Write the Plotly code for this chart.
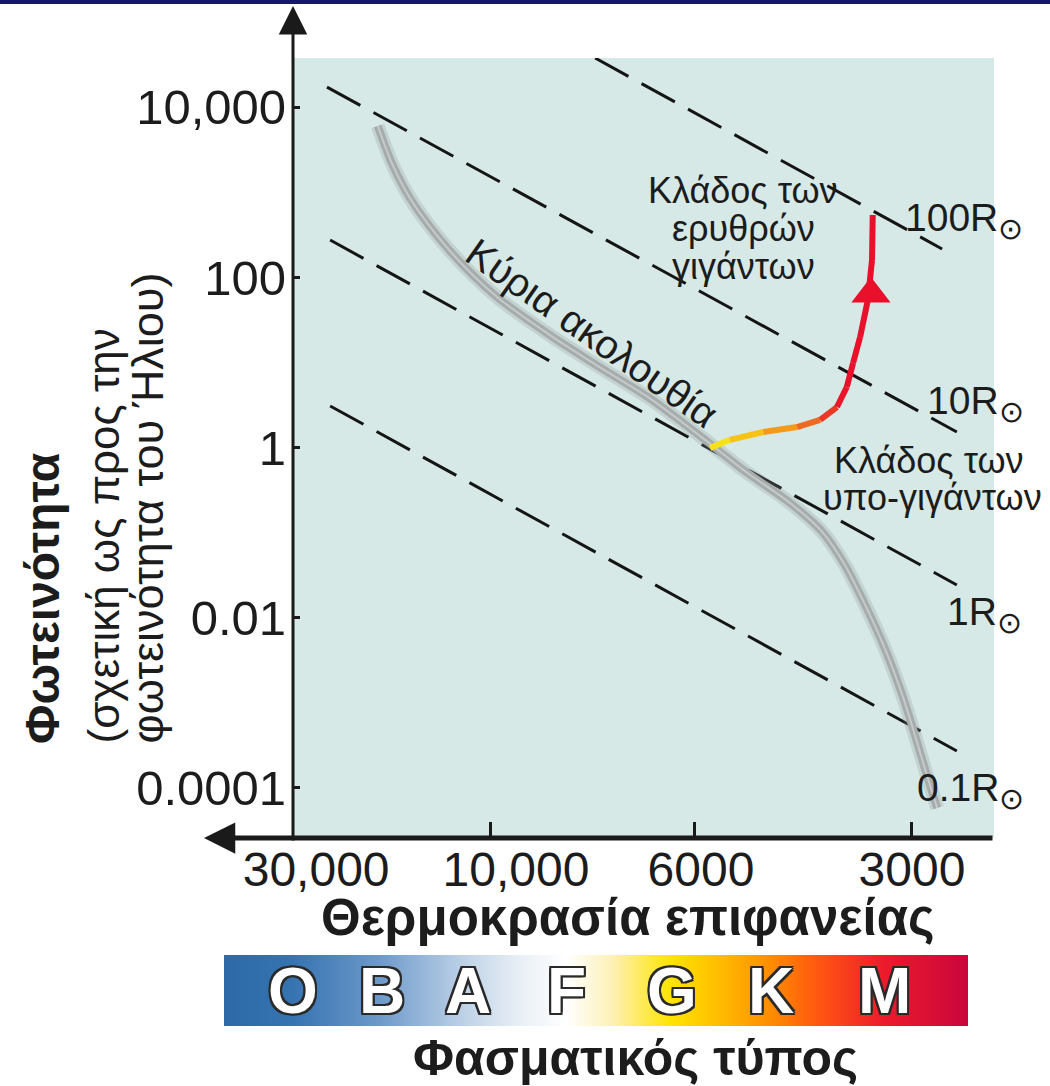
import plotly.graph_objects as go

W, H = 1050, 1086

# ---------------- data ----------------
# x axis: schematic temperature scale (0-100 across the axis, hotter on the left)
temp_tick_labels = ["30,000", "10,000", "6000", "3000"]
temp_label_pos = [3.3, 31.8, 58.2, 88.3]
temp_mark_pos = [28.2, 57.3, 88.2]

# y axis: luminance relative to the Sun (log)
lum_tick_vals = [1e-4, 1e-2, 1, 100, 1e4]
lum_tick_labels = ["0.0001", "0.01", "1", "100", "10,000"]

# constant-radius lines (start / end)
radius_names = ["100R", "10R", "1R", "0.1R"]
radius_x = [[43.1, 92.6], [4.85, 94.7], [5.3, 94.7], [5.3, 94.7]]
radius_L = [[38000, 216], [17300, 1.52], [275, 0.0242], [3.08, 2.7e-4]]

# main sequence
ms_x = [12.1, 14.1, 16.7, 20.3, 24.5, 29.5, 36.7, 43.8, 51.0, 58.1, 64.5,
        70.9, 75.5, 78.7, 81.6, 84.5, 86.9, 88.7, 90.4, 91.9]
ms_L = [6030, 2210, 852, 329, 133, 55.4, 20.8, 8.75, 3.73, 1.36, 0.526,
        0.223, 0.102, 0.0419, 0.0142, 0.00420, 0.00124, 0.000420,
        0.000142, 0.0000578]

# sub-giant / red-giant track
rg_x = [59.5, 62.3, 67.1, 71.9, 75.2, 77.6, 79.0, 79.9, 80.9, 82.0, 82.6, 82.7]
rg_L = [0.987, 1.23, 1.52, 1.74, 2.11, 2.99, 5.14, 9.86, 19.9, 54.2, 160, 542]
rg_colors = ["#f7e21a", "#f6c214", "#f39a18", "#ef6a20", "#ea3a26", "#e8182a",
             "#e8102a", "#e8102a", "#e8102a", "#e8102a", "#e8102a"]
rg_arrow_x = [82.45]
rg_arrow_L = [63.8]

# spectral classes bar
spectral_classes = ["O", "B", "A", "F", "G", "K", "M"]
spectral_pos = [0.093, 0.212, 0.328, 0.461, 0.602, 0.735, 0.888]
grad_stops = [0.0, 0.09, 0.21, 0.30, 0.34, 0.40, 0.46, 0.52, 0.60, 0.66, 0.735, 0.80, 0.888, 1.0]
grad_colors = ["#2d69a7", "#3573b1", "#6e9aca", "#aec7e2", "#c9d9ea", "#eaf0f6", "#ffffff",
               "#fdf1b8", "#ffe400", "#ffc000", "#ff8c00", "#ff5512", "#ec1a2c", "#c8053c"]

# ---------------- helpers (layout only) ----------------
def px(x):
    return x / W

def py(y):
    return 1 - y / H

FONT = "Liberation Sans, Arial, sans-serif"
INK = "#1c1c1c"

fig = go.Figure()

# constant-radius dashed lines
for xs, ls in zip(radius_x, radius_L):
    fig.add_trace(go.Scatter(x=xs, y=ls, mode="lines",
                             line=dict(color="#151515", width=3, dash="38px,15px"),
                             hoverinfo="skip", showlegend=False))

# main sequence (soft grey tube)
fig.add_trace(go.Scatter(x=ms_x, y=ms_L, mode="lines",
                         line=dict(color="rgba(140,146,146,0.25)", width=14, shape="spline", smoothing=0.9),
                         hoverinfo="skip", showlegend=False))
fig.add_trace(go.Scatter(x=ms_x, y=ms_L, mode="lines",
                         line=dict(color="#a6acac", width=8, shape="spline", smoothing=0.9),
                         hoverinfo="skip", showlegend=False))
fig.add_trace(go.Scatter(x=ms_x, y=ms_L, mode="lines",
                         line=dict(color="rgba(222,226,226,0.55)", width=2, shape="spline", smoothing=0.9),
                         hoverinfo="skip", showlegend=False))

# giant track in colour segments
for i in range(len(rg_x) - 1):
    fig.add_trace(go.Scatter(x=rg_x[i:i + 2], y=rg_L[i:i + 2], mode="lines",
                             line=dict(color=rg_colors[i], width=6),
                             hoverinfo="skip", showlegend=False))
fig.add_trace(go.Scatter(x=rg_arrow_x, y=rg_arrow_L, mode="markers",
                         marker=dict(symbol="triangle-up", size=34, color="#e8102a", line=dict(width=0)),
                         hoverinfo="skip", showlegend=False))

# spectral gradient bar
fig.add_trace(go.Heatmap(x=[0, 1], y=[0, 1], z=[[0, 1], [0, 1]], zsmooth="best",
                         colorscale=[[s, c] for s, c in zip(grad_stops, grad_colors)],
                         zmin=0, zmax=1, showscale=False, hoverinfo="skip",
                         xaxis="x2", yaxis="y2"))

annotations = []

# axis arrows
annotations.append(dict(x=px(293), y=py(6), xref="paper", yref="paper",
                        ax=0, ay=836, axref="pixel", ayref="pixel", showarrow=True,
                        arrowhead=2, arrowsize=1.9, arrowwidth=3, arrowcolor="#1a1a1a", text=""))
annotations.append(dict(x=px(204), y=py(838), xref="paper", yref="paper",
                        ax=790, ay=0, axref="pixel", ayref="pixel", showarrow=True,
                        arrowhead=2, arrowsize=1.25, arrowwidth=5, arrowcolor="#1a1a1a", text=""))

def label(text, x, y, size, bold=False, angle=0, xanchor="center", yanchor="middle", color=INK):
    annotations.append(dict(text=text, x=px(x), y=py(y), xref="paper", yref="paper",
                            showarrow=False, textangle=angle, xanchor=xanchor, yanchor=yanchor,
                            font=dict(family=FONT, size=size, color=color,
                                      weight="bold" if bold else "normal")))

# axis titles
label("Φωτεινότητα", 42, 746, 48, bold=True, angle=-90, yanchor="bottom")
label("(σχετική ως προς την", 103, 746, 44, angle=-90, yanchor="bottom")
label("φωτεινότητα του Ήλιου)", 147, 746, 45, angle=-90, yanchor="bottom")
label("Θερμοκρασία επιφανείας", 628, 917, 51, bold=True)
label("Φασματικός τύπος", 635, 1058, 50, bold=True)

# in-plot labels
label("Κύρια ακολουθία", 592, 333, 40, angle=35.1)
label("Κλάδος των", 743, 190, 36)
label("ερυθρών", 743, 228, 36)
label("γιγάντων", 743, 266, 36)
label("Κλάδος των", 929, 460, 36)
label("υπο-γιγάντων", 932, 497, 36)

SUN = "<sub><span style='font-size:30px'>⊙</span></sub>"
r_label_pos = [(903, 220), (925, 404), (945, 614), (915, 790)]
for name, (lx, ly) in zip(radius_names, r_label_pos):
    label(name + SUN, lx, ly, 39, xanchor="left")

# spectral letters
OUT = "#2a2a2a"
for cls, pos in zip(spectral_classes, spectral_pos):
    annotations.append(dict(text=cls, x=pos, y=0.5, xref="x2", yref="y2", showarrow=False,
                            font=dict(family=FONT, size=64, color="white", weight="bold",
                                      shadow=f"2px 2px 0 {OUT}, -2px -2px 0 {OUT}, 2px -2px 0 {OUT}, "
                                             f"-2px 2px 0 {OUT}, 0 2px 0 {OUT}, 0 -2px 0 {OUT}, "
                                             f"2px 0 0 {OUT}, -2px 0 0 {OUT}")))

shapes = [dict(type="rect", xref="paper", yref="paper", x0=0, x1=1, y0=py(4), y1=1,
               fillcolor="#17176a", line=dict(width=0), layer="above")]

fig.update_layout(
    width=W, height=H,
    margin=dict(l=0, r=0, t=0, b=0, pad=0, autoexpand=False),
    paper_bgcolor="white",
    plot_bgcolor="#d6e9e7",
    showlegend=False,
    xaxis=dict(domain=[px(293), px(994)], range=[0, 100], showgrid=False, zeroline=False,
               showline=False, tickvals=temp_label_pos, ticktext=temp_tick_labels,
               ticks="", automargin=False,
               tickfont=dict(family=FONT, size=48, color=INK), fixedrange=True,
               minor=dict(tickmode="array", tickvals=temp_mark_pos, ticks="inside",
                          ticklen=15, tickwidth=3, tickcolor="#1a1a1a", showgrid=False)),
    yaxis=dict(domain=[py(837), py(58)], type="log", range=[-4.58, 4.58], showgrid=False,
               zeroline=False, showline=False, tickvals=lum_tick_vals, ticktext=lum_tick_labels,
               ticks="inside", ticklen=7, tickwidth=3, tickcolor="#1a1a1a", automargin=False,
               ticklabelstandoff=6,
               tickfont=dict(family=FONT, size=49, color=INK), fixedrange=True),
    xaxis2=dict(domain=[px(224), px(968)], range=[0, 1], visible=False, anchor="y2", automargin=False),
    yaxis2=dict(domain=[py(1026), py(955)], range=[0, 1], visible=False, anchor="x2", automargin=False),
    annotations=annotations,
    shapes=shapes,
)

fig.write_html("out.html", config={"displayModeBar": False},
               post_script="document.body.style.margin='0';document.body.style.overflow='hidden';")
